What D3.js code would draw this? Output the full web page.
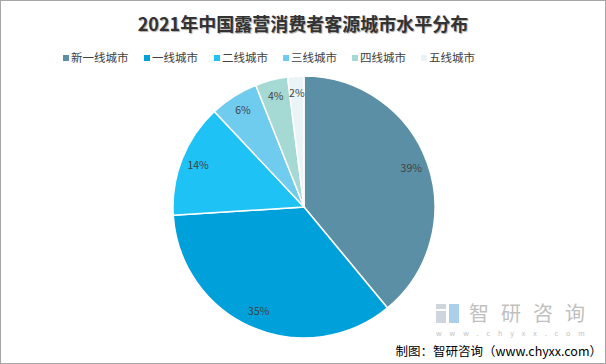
<!DOCTYPE html>
<html>
<head>
<meta charset="utf-8">
<script src="https://cdn.jsdelivr.net/npm/d3@7"></script>
<style>
  body { margin: 0; background: #fff; }
  text { font-family: "Noto Sans CJK SC", "Noto Sans", sans-serif; }
</style>
</head>
<body>
<div id="chart"></div>
<script>
// 数据
let categories = ['新一线城市', '一线城市', '二线城市', '三线城市', '四线城市', '五线城市'];
let values = [39, 35, 14, 6, 4, 2];
let colors = ['#5b8fa6', '#00a0da', '#1ec2f5', '#70ccef', '#a5dad4', '#eaf4f6'];

let width = 606;
let height = 364;
let radius = 131;
let cx = 304, cy = 207;

let svg = d3.select('#chart')
    .append('svg')
    .attr('width', width)
    .attr('height', height);

// 边框
svg.append('rect')
    .attr('x', 0.5).attr('y', 0.5)
    .attr('width', width - 1).attr('height', height - 1)
    .attr('fill', '#fff')
    .attr('stroke', '#a6a6a6');

// 标题
svg.append('text')
    .attr('x', 303).attr('y', 31)
    .attr('text-anchor', 'middle')
    .attr('font-size', 18)
    .attr('font-weight', 'bold')
    .attr('fill', '#333')
    .style('text-shadow', '1px 1px 1px #aaa')
    .text('2021年中国露营消费者客源城市水平分布');

// 图例
let legend_x = [63, 144, 214, 283, 352, 421];
let legend = svg.append('g').selectAll('g')
    .data(categories)
    .enter()
    .append('g')
    .attr('transform', (d, i) => 'translate(' + legend_x[i] + ',58)');
legend.append('rect')
    .attr('x', 0).attr('y', -3)
    .attr('width', 6).attr('height', 6)
    .attr('fill', (d, i) => colors[i]);
legend.append('text')
    .attr('x', 8).attr('y', 4)
    .attr('font-size', 11.5)
    .attr('fill', '#404040')
    .text(d => d);

// 饼图
let pie = d3.pie().sort(null).value(d => d);
let arc = d3.arc().innerRadius(0).outerRadius(radius);
let label_arc = d3.arc().innerRadius(radius * 0.87).outerRadius(radius * 0.87);

let g = svg.append('g').attr('transform', 'translate(' + cx + ',' + cy + ')');
let arcs = pie(values);

g.selectAll('path')
    .data(arcs)
    .enter()
    .append('path')
    .attr('d', arc)
    .attr('fill', (d, i) => colors[i])
    .attr('stroke', '#fff')
    .attr('stroke-width', 1.5);

g.selectAll('text')
    .data(arcs)
    .enter()
    .append('text')
    .attr('transform', d => 'translate(' + label_arc.centroid(d) + ')')
    .attr('text-anchor', 'middle')
    .attr('dy', '0.35em')
    .attr('font-size', 10.5)
    .attr('fill', '#404040')
    .text(d => d.data + '%');

// 水印
let wm = svg.append('g').attr('opacity', 0.55);
wm.append('rect').attr('x', 436).attr('y', 304).attr('width', 10).attr('height', 5).attr('fill', '#a9b4c2');
wm.append('rect').attr('x', 436).attr('y', 311).attr('width', 10).attr('height', 12).attr('fill', '#a9b4c2');
wm.append('rect').attr('x', 449).attr('y', 304).attr('width', 10).attr('height', 19).attr('fill', '#6aa9d8');
wm.append('text')
    .attr('x', 469).attr('y', 321)
    .attr('font-size', 20)
    .attr('letter-spacing', 12)
    .attr('fill', '#8c8c8c')
    .text('智研咨询');
wm.append('text')
    .attr('x', 436).attr('y', 336)
    .attr('font-size', 7)
    .attr('letter-spacing', 8)
    .attr('fill', '#8c8c8c')
    .text('www.chyxx.com');

// 来源
svg.append('text')
    .attr('x', 602).attr('y', 356)
    .attr('text-anchor', 'end')
    .attr('font-size', 12.5)
    .attr('fill', '#000')
    .text('制图：智研咨询（www.chyxx.com）');
</script>
</body>
</html>
